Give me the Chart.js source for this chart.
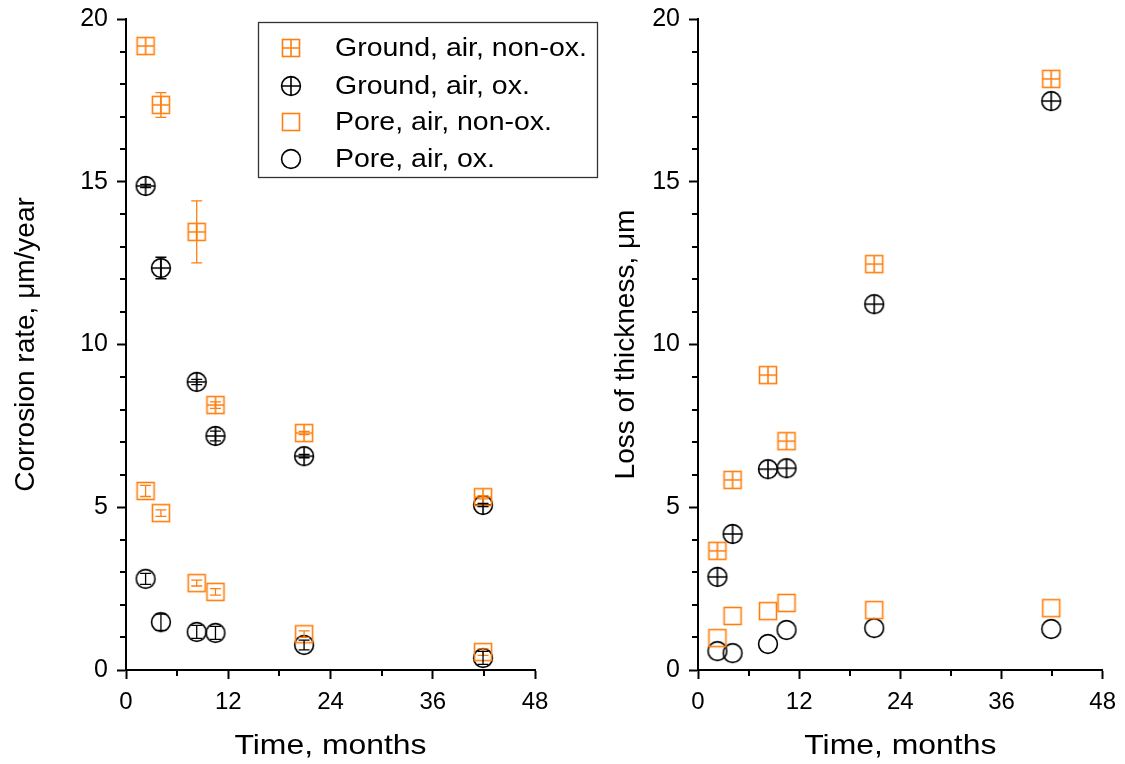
<!DOCTYPE html>
<html lang="en">
<head>
<meta charset="UTF-8">
<title>Corrosion rate and loss of thickness</title>
<script src="https://cdn.jsdelivr.net/npm/chart.js"></script>
<style>
  body { margin: 0; background: #fff; }
  #left { position: absolute; left: 0; top: 0; }
  #right { position: absolute; left: 605px; top: 0; }
</style>
</head>
<body>
<canvas id="left" width="605" height="764"></canvas>
<canvas id="right" width="520" height="764"></canvas>
<script>
// exposure time, months
const months = [2.3, 4.1, 8.3, 10.5, 20.9, 41.9];
const seriesNames = ['Ground, air, non-ox.', 'Ground, air, ox.', 'Pore, air, non-ox.', 'Pore, air, ox.'];

// corrosion rate, µm/year
const rateGroundNonOx = [19.17, 17.36, 13.46, 8.14, 7.28, 5.31];
const rateGroundOx    = [14.87, 12.35, 8.85, 7.19, 6.57, 5.07];
const ratePoreNonOx   = [5.50, 4.82, 2.67, 2.40, 1.10, 0.55];
const ratePoreOx      = [2.80, 1.47, 1.17, 1.14, 0.77, 0.37];
// error bars for the rate
const errGroundNonOx = [0.00, 0.38, 0.95, 0.10, 0.05, 0.05];
const errGroundOx    = [0.05, 0.33, 0.08, 0.15, 0.05, 0.05];
const errPoreNonOx   = [0.17, 0.10, 0.09, 0.10, 0.10, 0.10];
const errPoreOx      = [0.17, 0.25, 0.20, 0.20, 0.15, 0.20];

// loss of thickness, µm
const lossGroundNonOx = [3.66, 5.84, 9.06, 7.03, 12.47, 18.16];
const lossGroundOx    = [2.86, 4.18, 6.17, 6.20, 11.24, 17.48];
const lossPoreNonOx   = [0.98, 1.66, 1.81, 2.06, 1.84, 1.90];
const lossPoreOx      = [0.58, 0.52, 0.80, 1.23, 1.29, 1.26];

const xMajor = [0, 12, 24, 36, 48];
const xMinor = [6, 18, 30, 42];
const yMajor = [0, 5, 10, 15, 20];

const ORANGE = '#ff7f0e';
const FONT = "'Liberation Sans', Arial, sans-serif";
const STRETCH = 1.14; // text in the source figure is a bit wider than tall

function marker(shape, plus, color) {
  const s = 24, m = s / 2;
  const c = document.createElement('canvas');
  c.width = c.height = s;
  const g = c.getContext('2d');
  g.strokeStyle = color;
  g.lineWidth = 1.6;
  if (shape === 'square') {
    g.strokeRect(m - 8.5, m - 8.5, 17, 17);
    if (plus) {
      g.beginPath();
      g.moveTo(m, m - 8.5); g.lineTo(m, m + 8.5);
      g.moveTo(m - 8.5, m); g.lineTo(m + 8.5, m);
      g.stroke();
    }
  } else {
    g.beginPath();
    g.arc(m, m, 9.4, 0, Math.PI * 2);
    g.stroke();
    if (plus) {
      g.beginPath();
      g.moveTo(m, m - 9.4); g.lineTo(m, m + 9.4);
      g.moveTo(m - 9.4, m); g.lineTo(m + 9.4, m);
      g.stroke();
    }
  }
  return c;
}

const markers = [
  marker('square', true, ORANGE),
  marker('circle', true, '#000'),
  marker('square', false, ORANGE),
  marker('circle', false, '#000')
];
const colors = [ORANGE, '#000', ORANGE, '#000'];

function makeSets(series, errs) {
  return series.map((vals, i) => ({
    label: seriesNames[i],
    data: months.map((m, j) => ({ x: m, y: vals[j] })),
    errors: errs ? errs[i] : null,
    pointStyle: markers[i],
    pointRadius: 10,
    borderColor: colors[i],
    backgroundColor: colors[i],
    showLine: false
  }));
}

function wideText(ctx, text, x, y, align) {
  ctx.save();
  ctx.translate(x, y);
  ctx.scale(STRETCH, 1);
  ctx.textAlign = align;
  ctx.fillText(text, 0, 0);
  ctx.restore();
}

// error bars
const errorBars = {
  id: 'errorBars',
  afterDatasetsDraw(chart) {
    const ctx = chart.ctx, ys = chart.scales.y, xs = chart.scales.x;
    chart.data.datasets.forEach(ds => {
      if (!ds.errors) return;
      ctx.save();
      ctx.strokeStyle = ds.borderColor;
      ctx.lineWidth = 1.3;
      ds.data.forEach((p, j) => {
        const e = ds.errors[j];
        if (!e) return;
        const px = xs.getPixelForValue(p.x);
        const top = ys.getPixelForValue(p.y + e), bot = ys.getPixelForValue(p.y - e);
        ctx.beginPath();
        ctx.moveTo(px, top); ctx.lineTo(px, bot);
        ctx.moveTo(px - 5.5, top); ctx.lineTo(px + 5.5, top);
        ctx.moveTo(px - 5.5, bot); ctx.lineTo(px + 5.5, bot);
        ctx.stroke();
      });
      ctx.restore();
    });
  }
};

// short minor ticks and the x title
const axisExtras = {
  id: 'axisExtras',
  afterDraw(chart) {
    const ctx = chart.ctx, xs = chart.scales.x, ys = chart.scales.y;
    const a = chart.chartArea;
    ctx.save();
    ctx.strokeStyle = '#000';
    ctx.lineWidth = 2;
    ctx.beginPath();
    xMinor.forEach(v => {
      const px = Math.round(xs.getPixelForValue(v));
      ctx.moveTo(px, a.bottom); ctx.lineTo(px, a.bottom + 6);
    });
    for (let v = 1; v < 20; v++) {
      if (v % 5 === 0) continue;
      const py = Math.round(ys.getPixelForValue(v));
      ctx.moveTo(a.left, py); ctx.lineTo(a.left - 6, py);
    }
    ctx.stroke();
    ctx.fillStyle = '#000';
    ctx.font = '28px ' + FONT;
    ctx.textBaseline = 'middle';
    wideText(ctx, 'Time, months', (a.left + a.right) / 2, 746, 'center');
    ctx.restore();
  }
};

// framed legend inside the left panel
const boxLegend = {
  id: 'boxLegend',
  afterDraw(chart) {
    if (chart.canvas.id !== 'left') return;
    const ctx = chart.ctx;
    ctx.save();
    ctx.strokeStyle = '#333';
    ctx.lineWidth = 1.3;
    ctx.strokeRect(258.5, 22.5, 339, 155);
    const rows = [48, 86, 122, 159];
    ctx.font = '25px ' + FONT;
    ctx.fillStyle = '#000';
    ctx.textBaseline = 'middle';
    seriesNames.forEach((name, i) => {
      const img = markers[i];
      ctx.drawImage(img, 291 - img.width / 2, rows[i] - img.height / 2);
      wideText(ctx, name, 335, rows[i] + 1, 'left');
    });
    ctx.restore();
  }
};

function options(yTitle, yWidth, titlePad, padRight) {
  return {
    responsive: false,
    animation: false,
    layout: { padding: { top: 19, right: padRight, left: 0, bottom: 0 } },
    plugins: { legend: { display: false }, tooltip: { enabled: false } },
    scales: {
      x: {
        type: 'linear', min: 0, max: 48,
        afterBuildTicks: s => { s.ticks = xMajor.map(v => ({ value: v })); },
        afterFit: s => { s.height = 94; },
        grid: { display: true, drawOnChartArea: false, tickLength: 9, tickWidth: 2, tickColor: '#000' },
        border: { display: true, color: '#000', width: 2 },
        ticks: { color: '#000', font: { family: FONT, size: 24 }, padding: 9, maxRotation: 0 },
        title: { display: false }
      },
      y: {
        type: 'linear', min: 0, max: 20,
        afterBuildTicks: s => { s.ticks = yMajor.map(v => ({ value: v })); },
        afterFit: s => { s.width = yWidth; s.paddingTop = 0; s.paddingBottom = 0; },
        grid: { display: true, drawOnChartArea: false, tickLength: 9, tickWidth: 2, tickColor: '#000' },
        border: { display: true, color: '#000', width: 2 },
        ticks: { color: '#000', font: { family: FONT, size: 25, lineHeight: 1 }, padding: 9 },
        title: { display: true, text: yTitle, color: '#000', font: { family: FONT, size: 28 }, padding: { top: titlePad, bottom: 0 } }
      }
    }
  };
}

new Chart(document.getElementById('left'), {
  type: 'scatter',
  data: { datasets: makeSets([rateGroundNonOx, rateGroundOx, ratePoreNonOx, ratePoreOx],
                             [errGroundNonOx, errGroundOx, errPoreNonOx, errPoreOx]) },
  options: options('Corrosion rate, μm/year', 126, 9, 70),
  plugins: [errorBars, axisExtras, boxLegend]
});

new Chart(document.getElementById('right'), {
  type: 'scatter',
  data: { datasets: makeSets([lossGroundNonOx, lossGroundOx, lossPoreNonOx, lossPoreOx], null) },
  options: options('Loss of thickness, μm', 93, 4, 18),
  plugins: [axisExtras]
});
</script>
</body>
</html>
